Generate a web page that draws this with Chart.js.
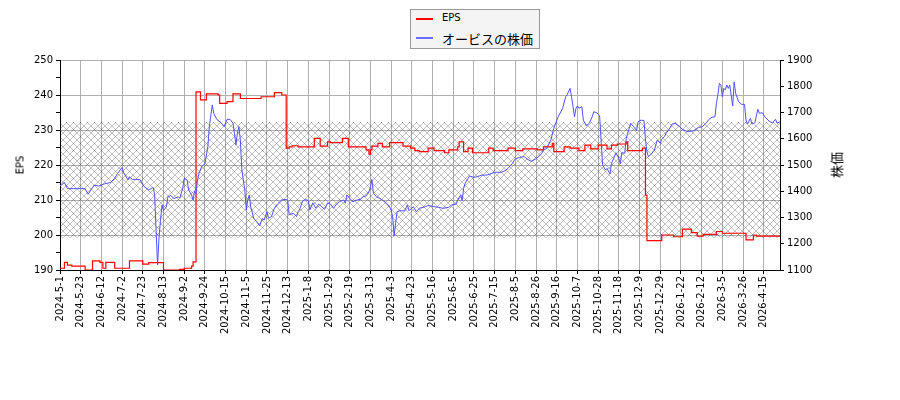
<!DOCTYPE html>
<html>
<head>
<meta charset="utf-8">
<script src="https://cdn.jsdelivr.net/npm/chart.js@4/dist/chart.umd.min.js"></script>
<style>
  body { margin: 0; background: #fff; }
  #wrap { position: relative; width: 900px; height: 400px; }
  .ttl { position: absolute; font-family: 'DejaVu Sans', 'Noto Sans CJK JP', sans-serif; color: #000; white-space: nowrap; }
  #legend { position: absolute; left: 410px; top: 9px; width: 128px; height: 38px; border: 1px solid #999; background: #f4f4f4; }
  .lg { position: absolute; left: 5px; width: 17px; }
  .lt { position: absolute; left: 31px; font-family: 'DejaVu Sans', 'Noto Sans CJK JP', sans-serif; color: #000; }
</style>
</head>
<body>
<div id="wrap">
  <canvas id="chart" width="900" height="400"></canvas>
  <div class="ttl" style="left:20px;top:165px;font-size:10px;transform:translate(-50%,-50%) rotate(-90deg);">EPS</div>
  <div class="ttl" style="left:836px;top:165px;font-size:13px;transform:translate(-50%,-50%) rotate(-90deg);">株価</div>
  <div id="legend">
    <div class="lg" style="top:8px;height:2px;background:#ff0000;"></div>
    <div class="lt" style="top:2px;font-size:10px;">EPS</div>
    <div class="lg" style="top:27px;height:2px;background:#6a6aff;"></div>
    <div class="lt" style="top:19px;font-size:13px;">オービスの株価</div>
  </div>
</div>
<script>
// ----------- DATA -----------
const xLabels = ['2024-5-1','2024-5-23','2024-6-12','2024-7-2','2024-7-23','2024-8-13','2024-9-2',
  '2024-9-24','2024-10-15','2024-11-5','2024-11-25','2024-12-13','2025-1-8','2025-1-29','2025-2-19',
  '2025-3-13','2025-4-3','2025-4-23','2025-5-16','2025-6-5','2025-6-25','2025-7-15','2025-8-5',
  '2025-8-26','2025-9-16','2025-10-7','2025-10-28','2025-11-18','2025-12-9','2025-12-29','2026-1-22',
  '2026-2-12','2026-3-5','2026-3-26','2026-4-15'];
const tickStep = 14;      // trading days between x labels
const lastDay = 487;

// EPS (step line, value changes at the given trading day)
const epsDays = [0,3,5,8,17,22,27,29,31,37,47,56,60,70,81,84,89,90,92,95,99,107,108,113,117,122,136,145,150,153,
  155,157,161,172,176,181,183,191,195,207,209,210,211,215,218,223,232,237,240,243,249,253,260,263,269,270,273,276,279,290,
  293,303,308,313,323,327,333,334,341,345,351,355,359,364,370,373,377,383,384,394,396,397,407,415,421,427,431,435,444,448,
  464,469,471,487];
const epsValues = [190.5,192.2,191.4,191.1,190.0,192.6,192.2,190.5,192.2,190.5,192.6,191.7,192.1,190.0,190.2,
  190.5,191.1,192.3,240.9,238.6,240.3,240.0,237.6,238.1,240.3,239.0,239.5,240.7,240.0,224.8,
  225.2,225.5,225.2,227.6,225.4,226.6,226.4,227.6,225.2,224.3,223.1,224.3,225.4,226.2,225.2,
  226.4,225.4,224.8,224.1,223.8,224.8,224.1,223.5,224.3,225.2,226.6,223.8,224.8,223.5,224.8,
  224.1,224.8,224.1,224.6,224.3,225.2,226.2,223.8,225.2,224.8,224.1,225.7,224.6,225.7,224.6,
  225.7,226.0,226.6,224.1,224.8,211.4,198.4,200.0,199.5,201.7,200.7,199.7,200.2,201.0,200.5,
  198.6,200.0,199.7,199.7];

// share price
const priceDays = [0,3,5,12,17,19,21,23,26,30,34,37,39,42,43,46,47,49,54,57,60,63,64,65,66,67,68,69,70,72,
  73,75,77,80,81,83,84,86,87,89,90,91,92,93,94,96,98,100,101,103,104,106,109,111,113,115,117,118,119,120,
  121,122,123,125,126,127,128,129,131,133,135,137,138,140,141,143,145,147,150,153,154,155,158,160,161,162,164,166,168,169,
  171,173,175,177,179,181,183,185,187,189,192,193,194,196,198,201,203,205,207,209,210,211,212,214,216,219,221,223,224,225,
  226,227,228,230,233,235,236,239,241,243,247,249,253,256,259,263,265,268,269,271,272,273,274,276,277,280,282,285,289,292,
  295,298,301,303,306,308,311,314,316,319,322,324,326,327,329,332,334,337,340,342,343,345,346,347,348,349,350,351,353,354,
  356,358,360,361,363,365,366,367,369,370,372,373,375,376,378,379,380,382,383,385,386,388,390,391,393,395,396,397,398,400,
  402,403,404,406,407,409,410,412,414,416,419,421,424,428,430,432,434,437,439,441,443,444,445,446,447,448,449,450,451,452,
  453,455,456,457,459,461,463,464,465,467,468,470,472,473,475,477,480,482,484,485,487];
const priceValues = [1420,1433,1410,1410,1410,1389,1405,1423,1420,1428,1433,1449,1468,1491,1471,1443,1455,1445,1445,1417,1405,1415,1386,1250,1119,1227,1290,1348,1326,1341,
  1379,1384,1372,1379,1373,1411,1449,1443,1405,1386,1367,1400,1390,1443,1468,1496,1504,1570,1646,1729,1697,1674,1661,1646,1674,1674,1659,1621,1576,1621,
  1646,1595,1481,1405,1329,1367,1386,1341,1297,1284,1268,1297,1290,1322,1297,1303,1335,1351,1367,1369,1367,1310,1316,1303,1322,1329,1362,1369,1364,1329,
  1356,1335,1351,1341,1331,1356,1351,1335,1351,1360,1367,1354,1386,1373,1360,1367,1369,1379,1382,1398,1417,1445,1392,1379,1373,1364,1354,1341,1326,1303,
  1229,1278,1322,1326,1325,1348,1326,1341,1322,1335,1341,1346,1341,1339,1335,1339,1348,1351,1367,1386,1364,1411,1430,1449,1458,1453,1455,1461,1462,1468,
  1473,1471,1478,1487,1506,1524,1529,1532,1522,1514,1524,1534,1545,1557,1562,1595,1640,1684,1716,1760,1767,1792,1760,1722,1684,1716,1725,1716,1722,1671,
  1649,1659,1684,1703,1699,1687,1595,1500,1481,1487,1466,1506,1532,1547,1525,1504,1547,1545,1602,1640,1659,1646,1631,1665,1671,1669,1595,1551,1532,1542,
  1557,1576,1595,1583,1598,1610,1621,1636,1656,1659,1646,1636,1628,1629,1636,1644,1644,1659,1674,1682,1684,1735,1767,1811,1805,1760,1792,1786,1805,1792,
  1805,1725,1817,1773,1741,1731,1731,1671,1656,1678,1656,1661,1712,1697,1699,1682,1665,1661,1674,1659,1665];

// hatched band (EPS scale)
const bandTop = 232.3;
const bandBottom = 199.2;

// ----------- HATCH -----------
function makeHatch() {
  const s = 7;
  const c = document.createElement('canvas');
  c.width = s; c.height = s;
  const g = c.getContext('2d');
  g.strokeStyle = 'rgba(0,0,0,0.3)';
  g.lineWidth = 0.8;
  g.beginPath();
  g.moveTo(-1, -1); g.lineTo(s + 1, s + 1);
  g.moveTo(s + 1, -1); g.lineTo(-1, s + 1);
  g.stroke();
  return g.createPattern(c, 'repeat');
}

Chart.defaults.font.family = "'DejaVu Sans', 'Noto Sans CJK JP', sans-serif";
Chart.defaults.font.size = 10;
Chart.defaults.color = '#000';

const epsPoints = epsDays.map((d, i) => ({x: d, y: epsValues[i]}));
const pricePoints = priceDays.map((d, i) => ({x: d, y: priceValues[i]}));

const ctx = document.getElementById('chart').getContext('2d');
new Chart(ctx, {
  type: 'line',
  data: {
    datasets: [
      {
        label: 'band',
        data: [{x: 0, y: bandTop}, {x: lastDay, y: bandTop}],
        yAxisID: 'y',
        borderWidth: 0,
        borderColor: 'rgba(0,0,0,0)',
        backgroundColor: makeHatch(),
        fill: {value: bandBottom},
        order: 3
      },
      {
        label: 'EPS',
        data: epsPoints,
        yAxisID: 'y',
        borderColor: '#ff0000',
        borderWidth: 1.2,
        stepped: true,
        fill: false,
        order: 2
      },
      {
        label: 'オービスの株価',
        data: pricePoints,
        yAxisID: 'y2',
        borderColor: '#5050ff',
        borderWidth: 1,
        tension: 0,
        fill: false,
        order: 1
      }
    ]
  },
  options: {
    responsive: false,
    animation: false,
    elements: { point: { radius: 0 } },
    layout: { padding: { top: 60, left: 0, right: 0, bottom: 0 } },
    plugins: { legend: { display: false }, tooltip: { enabled: false } },
    scales: {
      x: {
        type: 'linear',
        min: 0,
        max: lastDay,
        afterBuildTicks: s => { s.ticks = xLabels.map((_, i) => ({value: i * tickStep})); },
        afterFit: s => { s.height = 130; },
        ticks: {
          autoSkip: false,
          minRotation: 90,
          maxRotation: 90,
          padding: 2,
          callback: v => xLabels[Math.round(v / tickStep)]
        },
        grid: { color: '#b0b0b0', lineWidth: 1, tickLength: 4, tickColor: '#000' },
        border: { color: '#000', width: 1 }
      },
      y: {
        position: 'left',
        min: 190,
        max: 250,
        afterBuildTicks: s => {
          const t = [];
          for (let v = 190; v <= 250; v += 5) t.push({value: v});
          s.ticks = t;
        },
        afterFit: s => { s.width = 60; },
        ticks: { padding: 3, callback: v => (v % 10 === 0 ? v : '') },
        grid: {
          color: c => (c.tick && c.tick.value % 10 === 0 ? '#b0b0b0' : 'rgba(0,0,0,0)'),
          tickLength: 4,
          tickColor: '#000'
        },
        border: { color: '#000', width: 1 }
      },
      y2: {
        position: 'right',
        min: 1100,
        max: 1900,
        afterBuildTicks: s => {
          const t = [];
          for (let v = 1100; v <= 1900; v += 50) t.push({value: v});
          s.ticks = t;
        },
        afterFit: s => { s.width = 120; },
        ticks: { padding: 3, callback: v => (v % 100 === 0 ? v : '') },
        grid: { drawOnChartArea: false, tickLength: 4, tickColor: '#000' },
        border: { color: '#000', width: 1 }
      }
    }
  }
});
</script>
</body>
</html>
